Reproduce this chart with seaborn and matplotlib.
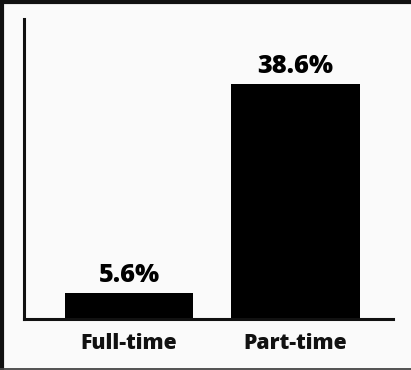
import matplotlib
matplotlib.use("Agg")
import matplotlib.pyplot as plt
import seaborn as sns
import pandas as pd
from matplotlib.lines import Line2D

# Share of workers by employment status
categories = ["Full-time", "Part-time"]
values = [5.6, 38.6]
value_labels = ["5.6%", "38.6%"]

sns.set_style("white")
plt.rcParams["font.family"] = ["Open Sans", "DejaVu Sans"]

W, H, DPI = 411, 370, 100
bg = "#fafafa"
fig = plt.figure(figsize=(W / DPI, H / DPI), dpi=DPI, facecolor=bg)
ax = fig.add_axes([24 / W, 1 - 319 / H, (393 - 24) / W, (319 - 19) / H])
ax.set_facecolor(bg)

df = pd.DataFrame({"status": categories, "pct": values})
sns.barplot(data=df, x="status", y="pct", color="black", saturation=1,
            width=0.77, ax=ax)
for p in ax.patches:
    p.set_edgecolor("none")

ax.set_xlim(-0.631, 1.585)
ax.set_ylim(1.5, 48.9)

for i, (v, lab) in enumerate(zip(values, value_labels)):
    ax.annotate(lab, xy=(i, v), xytext=(0, 8.3), textcoords="offset points",
                ha="center", va="baseline", fontsize=18.3, fontweight="heavy",
                color="black")

ax.set_xlabel("")
ax.set_ylabel("")
ax.set_yticks([])
ax.tick_params(axis="x", length=0, pad=9.8, labelsize=15.2)
for t in ax.get_xticklabels():
    t.set_fontweight("heavy")
    t.set_color("#111111")

sns.despine(ax=ax, top=True, right=True)
for s in ("left", "bottom"):
    ax.spines[s].set_linewidth(2.2)
    ax.spines[s].set_color("#111111")

# outer frame around the figure
def frame(x0, y0, x1, y1, lw, color="#111111"):
    fig.add_artist(Line2D([x0 / W, x1 / W], [1 - y0 / H, 1 - y1 / H],
                          transform=fig.transFigure, color=color,
                          linewidth=lw, solid_capstyle="butt"))

frame(2, 0, 2, H, 3.0)
frame(0, 2, W, 2, 3.0)
frame(W - 0.4, 0, W - 0.4, H, 0.6, "#555555")
frame(0, H - 1, W, H - 1, 1.3, "#444444")

fig.savefig("out.png", dpi=DPI, facecolor=bg)
